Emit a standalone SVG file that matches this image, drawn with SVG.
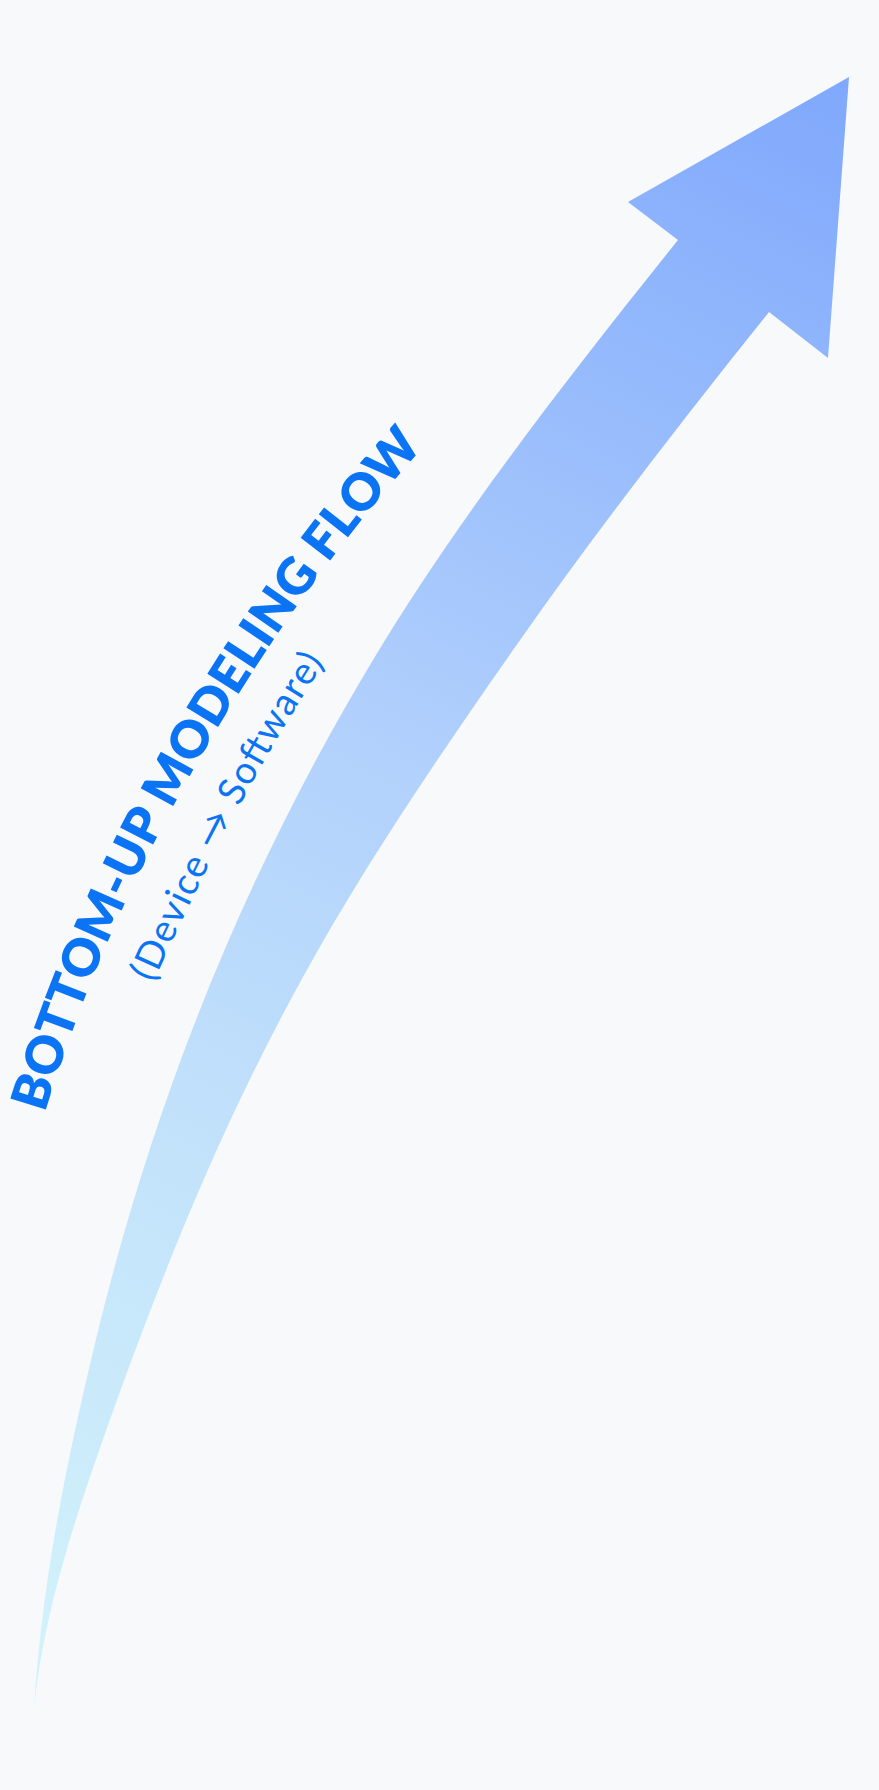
<svg xmlns="http://www.w3.org/2000/svg" width="879" height="1790" viewBox="0 0 879 1790">
  <defs>
    <linearGradient id="bandGrad" gradientUnits="userSpaceOnUse" x1="30" y1="1700" x2="860" y2="90">
      <stop offset="0" stop-color="#d3f3fb"/>
      <stop offset="0.3" stop-color="#c3e3fb"/>
      <stop offset="0.55" stop-color="#b2d1fc"/>
      <stop offset="0.8" stop-color="#95bafc"/>
      <stop offset="1" stop-color="#80a8fc"/>
    </linearGradient>
    <path id="titlePath" d="M45,1113 C117,873 260,628 427,443"/>
    <path id="subPath" d="M153,983 C204,870 260,759 329,656"/>
    <style>
      .title { font-family: "Lato", "Open Sans", "Liberation Sans", sans-serif; font-weight: 800; font-size: 51px; fill: #0a74f5; }
      .sub { font-family: "Lato", "Open Sans", "Liberation Sans", sans-serif; font-weight: 400; font-size: 38px; fill: #0a74f5; }
    </style>
  </defs>
  <rect x="0" y="0" width="879" height="1790" fill="#f8f9fb"/>
  <g id="connectors">
    <path id="flow-arrow" fill="url(#bandGrad)" d="M34,1709 C42,1579 68,1453 100,1323 C155,1102 240,881 373,660 C457,520 566,380 678,240 L628,202 L849,77 L828,358 L769,312 C681,422 595,533 518,643 C440,754 364,866 303,977 C225,1118 168,1259 117,1400 C80,1503 44,1606 34,1709 Z"/>
  </g>
  <g id="title">
    <text class="title"><textPath href="#titlePath" textLength="772" lengthAdjust="spacing">BOTTOM-UP MODELING FLOW</textPath></text>
  </g>
  <g id="subtitle">
    <text class="sub"><textPath href="#subPath" textLength="364" lengthAdjust="spacing">(Device → Software)</textPath></text>
  </g>
</svg>
